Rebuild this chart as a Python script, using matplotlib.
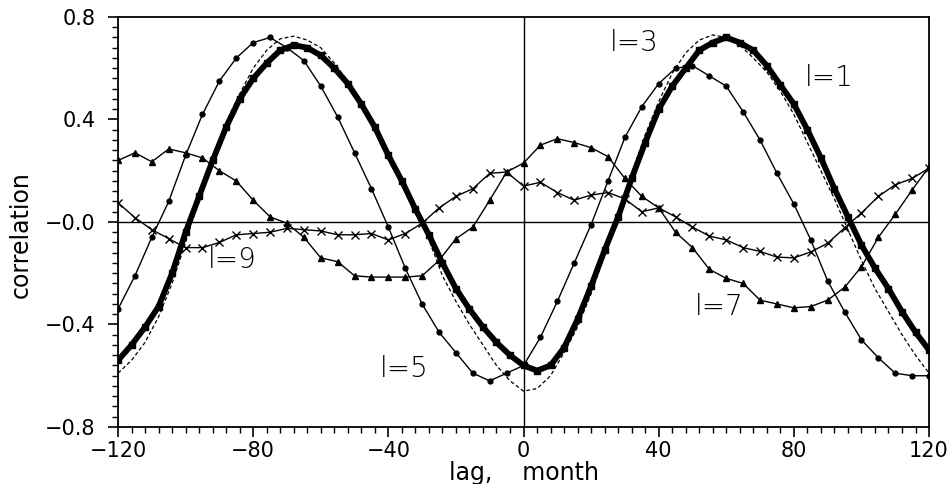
import numpy as np
import matplotlib
matplotlib.use("Agg")
import matplotlib.pyplot as plt
from matplotlib.ticker import MultipleLocator

# lag grids (months)
lag_dense = np.arange(-120, 121, 4)
lag_5 = np.arange(-120, 121, 5)

# l=1, thick curve with squares
corr_l1 = [-0.54, -0.48, -0.41, -0.33, -0.20, -0.04, 0.10, 0.24, 0.37, 0.48,
           0.56, 0.62, 0.67, 0.69, 0.68, 0.65, 0.60, 0.54, 0.46, 0.37,
           0.26, 0.16, 0.05, -0.05, -0.16, -0.26, -0.34, -0.41, -0.47, -0.52,
           -0.56, -0.58, -0.56, -0.49, -0.38, -0.25, -0.11, 0.02, 0.17, 0.31,
           0.44, 0.53, 0.60, 0.67, 0.70, 0.72, 0.70, 0.67, 0.61, 0.535,
           0.46, 0.36, 0.25, 0.13, 0.02, -0.09, -0.18, -0.26, -0.35, -0.43,
           -0.50]

# dashed reference curve
corr_dash = [-0.59, -0.54, -0.47, -0.37, -0.24, -0.08, 0.09, 0.25, 0.39, 0.50,
             0.60, 0.67, 0.715, 0.725, 0.71, 0.68, 0.62, 0.55, 0.46, 0.36,
             0.26, 0.15, 0.04, -0.07, -0.21, -0.31, -0.40, -0.48, -0.56, -0.62,
             -0.66, -0.65, -0.60, -0.51, -0.41, -0.28, -0.13, 0.03, 0.19, 0.34,
             0.47, 0.58, 0.66, 0.71, 0.73, 0.72, 0.69, 0.64, 0.585, 0.51,
             0.42, 0.31, 0.20, 0.09, -0.03, -0.15, -0.26, -0.35, -0.44, -0.52,
             -0.59]

# circles
corr_circ = [-0.34, -0.21, -0.06, 0.08, 0.26, 0.42, 0.55, 0.64, 0.70, 0.72,
             0.68, 0.63, 0.53, 0.41, 0.27, 0.13, -0.02, -0.18, -0.32, -0.43,
             -0.51, -0.59, -0.62, -0.59, -0.56, -0.45, -0.31, -0.16, -0.01, 0.16,
             0.33, 0.45, 0.54, 0.60, 0.61, 0.57, 0.53, 0.43, 0.32, 0.19,
             0.07, -0.07, -0.23, -0.35, -0.46, -0.53, -0.59, -0.60, -0.60]

# triangles (l=7)
corr_tri = [0.24, 0.27, 0.235, 0.285, 0.27, 0.25, 0.20, 0.16, 0.085, 0.02,
            -0.005, -0.06, -0.14, -0.155, -0.21, -0.215, -0.215, -0.215, -0.21, -0.15,
            -0.065, -0.02, 0.085, 0.195, 0.23, 0.30, 0.325, 0.31, 0.29, 0.255,
            0.17, 0.10, 0.055, -0.04, -0.10, -0.185, -0.22, -0.24, -0.305, -0.32,
            -0.335, -0.33, -0.305, -0.255, -0.175, -0.06, 0.03, 0.125, 0.215]

# crosses (l=9)
corr_x = [0.075, 0.017, -0.03, -0.065, -0.10, -0.10, -0.08, -0.05, -0.045, -0.04,
          -0.025, -0.03, -0.035, -0.05, -0.05, -0.045, -0.07, -0.045, -0.005, 0.055,
          0.10, 0.13, 0.19, 0.195, 0.14, 0.155, 0.115, 0.085, 0.105, 0.115,
          0.09, 0.04, 0.055, 0.02, -0.02, -0.055, -0.07, -0.10, -0.115, -0.137,
          -0.14, -0.117, -0.083, -0.023, 0.035, 0.10, 0.145, 0.17, 0.21]

labels = ["l=3", "l=1", "l=9", "l=5", "l=7"]
label_x = [25.6, 83.3, -93.4, -42.5, 50.8]
label_y = [0.70, 0.56, -0.15, -0.575, -0.33]

fig = plt.figure(figsize=(9.51, 4.84), dpi=100)
ax = fig.add_axes([0.1241, 0.1178, 0.8528, 0.8471])

ax.axhline(0, color="black", lw=1.0, zorder=1)
ax.axvline(0, color="black", lw=1.0, zorder=1)

ax.plot(lag_dense, corr_dash, color="black", lw=0.9, ls=(0, (3, 2)))
ax.plot(lag_dense, corr_l1, color="black", lw=4.2, marker="s", ms=5)
ax.plot(lag_5, corr_circ, color="black", lw=1.0, marker="o", ms=3.5)
ax.plot(lag_5, corr_tri, color="black", lw=1.0, marker="^", ms=4)
ax.plot(lag_5, corr_x, color="black", lw=1.0, marker="x", ms=6, mew=1.0)

for t, tx, ty in zip(labels, label_x, label_y):
    ax.text(tx, ty, t, fontsize=20, ha="left", va="center", fontweight="light")

ax.set_xlim(-120, 120)
ax.set_ylim(-0.8, 0.8)
ax.set_xticks([-120, -80, -40, 0, 40, 80, 120])
ax.set_xticklabels(["\u2212120", "\u221280", "\u221240", "0", "40", "80", "120"])
ax.set_yticks([-0.8, -0.4, 0.0, 0.4, 0.8])
ax.set_yticklabels(["\u22120.8", "\u22120.4", "\u22120.0", "0.4", "0.8"])
ax.xaxis.set_minor_locator(MultipleLocator(4))
ax.yaxis.set_minor_locator(MultipleLocator(0.04))
ax.tick_params(which="major", direction="out", length=7, width=1.2, labelsize=15, pad=3)
ax.tick_params(which="minor", direction="out", length=4, width=1.0)
ax.tick_params(axis="y", which="major", pad=9)
for s in ax.spines.values():
    s.set_linewidth(1.3)

ax.set_xlabel("lag,    month", fontsize=17, labelpad=0)
ax.set_ylabel("correlation", fontsize=17)
ax.yaxis.set_label_coords(-0.105, 0.47)

fig.savefig("out.png", dpi=100)
